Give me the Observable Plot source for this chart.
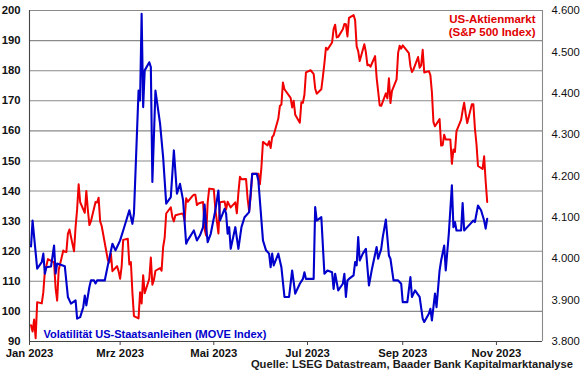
<!DOCTYPE html>
<html><head><meta charset="utf-8">
<script src="https://cdn.jsdelivr.net/npm/d3@7"></script>
<script src="https://cdn.jsdelivr.net/npm/@observablehq/plot@0.6"></script>
<style>
body{margin:0;background:#fff;}
#wrap{position:relative;width:580px;height:375px;font-family:"Liberation Sans",Arial,sans-serif;background:#fff;}
#src{position:absolute;right:7px;top:358px;font-size:11.2px;font-weight:bold;color:#1a1a1a;white-space:nowrap;}
</style></head><body>
<div id="wrap"><div id="chart"></div><div id="src">Quelle: LSEG Datastream, Baader Bank Kapitalmarktanalyse</div></div>
<script>
const spxDates = ["2023-01-02","2023-01-03","2023-01-04","2023-01-05","2023-01-06","2023-01-09","2023-01-10","2023-01-11","2023-01-12","2023-01-13","2023-01-17","2023-01-18","2023-01-19","2023-01-20","2023-01-23","2023-01-24","2023-01-25","2023-01-26","2023-01-27","2023-01-30","2023-01-31",
"2023-02-01","2023-02-02","2023-02-03","2023-02-06","2023-02-07","2023-02-08","2023-02-09","2023-02-10","2023-02-13","2023-02-14","2023-02-15","2023-02-16","2023-02-17","2023-02-21","2023-02-22","2023-02-23","2023-02-24","2023-02-27","2023-02-28",
"2023-03-01","2023-03-02","2023-03-03","2023-03-06","2023-03-07","2023-03-08","2023-03-09","2023-03-10","2023-03-13","2023-03-14","2023-03-15","2023-03-16","2023-03-17","2023-03-20","2023-03-21","2023-03-22","2023-03-23","2023-03-24","2023-03-27","2023-03-28","2023-03-29","2023-03-30","2023-03-31",
"2023-04-03","2023-04-04","2023-04-05","2023-04-06","2023-04-10","2023-04-11","2023-04-12","2023-04-13","2023-04-14","2023-04-17","2023-04-18","2023-04-19","2023-04-20","2023-04-21","2023-04-24","2023-04-25","2023-04-26","2023-04-27","2023-04-28",
"2023-05-01","2023-05-02","2023-05-03","2023-05-04","2023-05-05","2023-05-08","2023-05-09","2023-05-10","2023-05-11","2023-05-12","2023-05-15","2023-05-16","2023-05-17","2023-05-18","2023-05-19","2023-05-22","2023-05-23","2023-05-24","2023-05-25","2023-05-26","2023-05-30","2023-05-31",
"2023-06-01","2023-06-02","2023-06-05","2023-06-06","2023-06-07","2023-06-08","2023-06-09","2023-06-12","2023-06-13","2023-06-14","2023-06-15","2023-06-16","2023-06-20","2023-06-21","2023-06-22","2023-06-23","2023-06-26","2023-06-27","2023-06-28","2023-06-29","2023-06-30",
"2023-07-03","2023-07-05","2023-07-06","2023-07-07","2023-07-10","2023-07-11","2023-07-12","2023-07-13","2023-07-14","2023-07-17","2023-07-18","2023-07-19","2023-07-20","2023-07-21","2023-07-24","2023-07-25","2023-07-26","2023-07-27","2023-07-28","2023-07-31",
"2023-08-01","2023-08-02","2023-08-03","2023-08-04","2023-08-07","2023-08-08","2023-08-09","2023-08-10","2023-08-11","2023-08-14","2023-08-15","2023-08-16","2023-08-17","2023-08-18","2023-08-21","2023-08-22","2023-08-23","2023-08-24","2023-08-25","2023-08-28","2023-08-29","2023-08-30","2023-08-31",
"2023-09-01","2023-09-05","2023-09-06","2023-09-07","2023-09-08","2023-09-11","2023-09-12","2023-09-13","2023-09-14","2023-09-15","2023-09-18","2023-09-19","2023-09-20","2023-09-21","2023-09-22","2023-09-25","2023-09-26","2023-09-27","2023-09-28","2023-09-29",
"2023-10-02","2023-10-03","2023-10-04","2023-10-05","2023-10-06","2023-10-09","2023-10-10","2023-10-11","2023-10-12","2023-10-13","2023-10-16","2023-10-17","2023-10-18","2023-10-19","2023-10-20","2023-10-23","2023-10-24","2023-10-25","2023-10-26"];
const spxValues = [3839.5,3824.1,3853.0,3808.1,3895.1,3892.1,3919.3,3969.6,3983.2,3999.1,3991.0,3928.9,3898.9,3972.6,4019.8,4017.0,4016.2,4060.4,4070.6,4017.8,4076.6,
4119.2,4179.8,4136.5,4111.1,4164.0,4117.9,4081.5,4090.5,4137.3,4136.1,4147.6,4090.4,4079.1,3997.3,3991.1,4012.3,3970.0,3982.2,3970.2,
3951.4,3981.4,4045.6,4048.4,3986.4,3992.0,3918.3,3861.6,3855.8,3919.3,3891.9,3960.3,3916.6,3951.6,4002.9,3937.0,3948.7,3971.0,3977.5,3971.3,4027.8,4050.8,4109.3,
4124.5,4100.6,4090.4,4105.0,4109.1,4108.9,4092.0,4146.2,4137.6,4151.3,4154.9,4154.5,4129.8,4133.5,4137.0,4071.6,4056.0,4135.4,4169.5,
4167.9,4119.6,4090.8,4061.2,4136.3,4138.1,4119.2,4137.6,4130.6,4124.1,4136.3,4109.9,4158.8,4198.1,4192.0,4192.6,4145.6,4115.2,4151.3,4205.5,4205.5,4179.8,
4221.0,4282.4,4273.8,4283.9,4267.5,4293.9,4298.9,4338.9,4369.0,4372.6,4425.8,4409.6,4388.7,4365.7,4381.9,4348.3,4328.8,4378.4,4376.9,4396.4,4450.4,
4455.6,4446.8,4411.6,4399.0,4409.5,4439.3,4472.2,4510.0,4505.4,4522.8,4555.0,4565.7,4534.9,4536.3,4554.6,4567.5,4566.8,4537.4,4582.2,4589.0,
4576.7,4513.4,4501.9,4478.0,4518.4,4499.4,4467.7,4468.8,4464.1,4489.7,4437.9,4404.3,4370.4,4369.7,4399.8,4387.6,4436.0,4376.3,4405.7,4433.3,4497.6,4514.9,4507.7,
4515.8,4496.8,4465.5,4451.1,4457.5,4487.5,4461.9,4467.4,4505.1,4450.3,4453.5,4444.0,4402.2,4330.0,4320.1,4337.4,4273.5,4274.5,4299.7,4288.1,
4288.4,4229.5,4263.8,4258.2,4308.5,4335.7,4358.2,4377.0,4349.6,4327.8,4373.6,4373.2,4314.6,4278.0,4224.2,4217.0,4247.7,4186.8,4137.2];

const moveDates = ["2023-01-02","2023-01-03","2023-01-06","2023-01-09","2023-01-10","2023-01-11","2023-01-12","2023-01-15","2023-01-17","2023-01-18","2023-01-19","2023-01-24","2023-01-26","2023-01-28","2023-01-31",
"2023-02-01","2023-02-03","2023-02-05","2023-02-06","2023-02-07","2023-02-09","2023-02-10","2023-02-12","2023-02-13","2023-02-14","2023-02-19","2023-02-21","2023-02-24","2023-02-26","2023-02-28",
"2023-03-01","2023-03-03","2023-03-05","2023-03-07","2023-03-09","2023-03-10","2023-03-13","2023-03-14","2023-03-15","2023-03-16","2023-03-17","2023-03-20","2023-03-21","2023-03-22","2023-03-24","2023-03-27","2023-03-29","2023-03-31",
"2023-04-03","2023-04-05","2023-04-07","2023-04-09","2023-04-11","2023-04-13","2023-04-14","2023-04-18","2023-04-20","2023-04-22","2023-04-24","2023-04-25","2023-04-26","2023-04-27","2023-04-29",
"2023-05-02","2023-05-04","2023-05-05","2023-05-08","2023-05-09","2023-05-10","2023-05-11","2023-05-12","2023-05-15","2023-05-17","2023-05-19","2023-05-21","2023-05-24","2023-05-26","2023-05-29","2023-05-30",
"2023-06-02","2023-06-04","2023-06-06","2023-06-07","2023-06-08","2023-06-09","2023-06-12","2023-06-14","2023-06-16","2023-06-19","2023-06-21","2023-06-23","2023-06-26","2023-06-28","2023-06-29","2023-06-30",
"2023-07-05","2023-07-06","2023-07-07","2023-07-10","2023-07-12","2023-07-14","2023-07-17","2023-07-18","2023-07-19","2023-07-21","2023-07-24","2023-07-25","2023-07-26","2023-07-27","2023-07-28","2023-07-31",
"2023-08-01","2023-08-02","2023-08-03","2023-08-04","2023-08-06","2023-08-08","2023-08-10","2023-08-12","2023-08-15","2023-08-16","2023-08-18","2023-08-19","2023-08-21","2023-08-23","2023-08-24","2023-08-26","2023-08-29","2023-08-31",
"2023-09-01","2023-09-04","2023-09-06","2023-09-07","2023-09-09","2023-09-12","2023-09-14","2023-09-15","2023-09-18","2023-09-19","2023-09-20","2023-09-22","2023-09-23","2023-09-25","2023-09-26","2023-09-28","2023-09-29",
"2023-10-01","2023-10-03","2023-10-04","2023-10-05","2023-10-06","2023-10-09","2023-10-10","2023-10-11","2023-10-13","2023-10-15","2023-10-17","2023-10-18","2023-10-20","2023-10-22","2023-10-24","2023-10-25","2023-10-26"];
const moveValues = [121.6,130.2,114.2,116.4,119.2,112.5,114.7,114.9,121.9,112.6,115.9,115.0,104.8,102.6,103.7,
97.6,98.1,101.4,105.3,102.0,108.1,110.3,110.3,109.3,110.3,110.3,115.3,122.5,120.3,122.5,
123.6,126.9,130.2,133.6,129.1,132.5,173.4,170.1,198.9,167.9,180.1,182.8,181.2,143.0,173.4,162.4,151.3,135.8,
138.0,153.5,139.1,142.4,136.9,122.5,123.6,126.9,123.6,125.3,128.0,135.5,128.0,123.0,125.8,
133.6,140.2,130.2,134.1,132.5,125.8,128.0,120.8,128.0,120.8,128.0,131.3,133.0,145.7,145.7,143.5,
123.6,120.3,119.2,114.7,119.2,115.3,119.2,114.7,104.8,104.8,113.6,105.9,109.2,110.8,113.0,110.8,
110.8,134.7,130.2,131.3,112.5,113.6,113.0,107.5,112.5,107.0,109.2,112.5,104.8,110.3,110.8,112.0,
116.4,115.3,124.7,116.9,119.2,120.8,108.6,114.2,121.4,117.5,120.8,124.7,130.5,118.6,117.5,110.3,110.3,109.2,
103.1,103.1,111.4,104.8,107.0,104.8,97.6,96.5,99.2,100.9,97.0,105.9,101.4,113.6,116.9,121.9,113.6,
125.8,141.9,128.0,129.7,126.9,126.9,136.0,126.9,128.0,129.1,130.2,129.7,135.2,133.6,130.2,127.5,130.8];

const leftTicks = [90,100,110,120,130,140,150,160,170,180,190,200];
const rightTicks = [3800,3900,4000,4100,4200,4300,4400,4500,4600];
const xTickDates = ["2023-01-01","2023-03-01","2023-05-01","2023-07-01","2023-09-01","2023-11-01"];
const xTickLabels = ["Jan 2023","Mrz 2023","Mai 2023","Jul 2023","Sep 2023","Nov 2023"];
const xDomainDates = ["2023-01-01","2023-12-01"];
const leftDomain = [90,200];
const rightDomain = [3800,4600];
const spxLabel = "US-Aktienmarkt\n(S&P 500 Index)";
const moveLabel = "Volatilität US-Staatsanleihen (MOVE Index)";

const parse = d3.utcParse("%Y-%m-%d");
const toLeft = v => leftDomain[0] + (v - rightDomain[0]) / (rightDomain[1] - rightDomain[0]) * (leftDomain[1] - leftDomain[0]);
const fromLeft = v => rightDomain[0] + (v - leftDomain[0]) / (leftDomain[1] - leftDomain[0]) * (rightDomain[1] - rightDomain[0]);
const fmtDE = v => d3.format(",")(v).replace(/,/g, ".");
const spx = spxDates.map((d, i) => ({date: parse(d), value: toLeft(spxValues[i])}));
const move = moveDates.map((d, i) => ({date: parse(d), value: moveValues[i]}));
const xTicks = xTickDates.map(parse);
const xDomain = xDomainDates.map(parse);
const xLabel = d => xTickLabels[xTicks.findIndex(t => +t === +d)];

const font = '"Liberation Sans", Arial, sans-serif';
const chart = Plot.plot({
  width: 580, height: 362,
  marginTop: 10, marginBottom: 21, marginLeft: 29, marginRight: 38,
  style: {fontFamily: font, fontSize: "11px", color: "#111", background: "#fff"},
  x: {type: "utc", domain: xDomain, label: null},
  y: {domain: leftDomain, label: null},
  marks: [
    Plot.ruleY(leftTicks, {stroke: "#8a8a8a", strokeWidth: 1.1}),
    Plot.ruleX([xDomain[1]], {stroke: "#8a8a8a", strokeWidth: 1.1}),
    Plot.ruleX([xDomain[0]], {stroke: "#444", strokeWidth: 1.1}),
    Plot.ruleY([leftDomain[0]], {stroke: "#444", strokeWidth: 1.1}),
    Plot.axisY(leftTicks, {anchor: "left", label: null, tickSize: 0, tickPadding: 9, fontWeight: "bold", fontSize: 11.3, tickFormat: d => String(d)}),
    Plot.axisY(rightTicks.map(toLeft), {anchor: "right", label: null, tickSize: 0, tickPadding: 9, fontSize: 11.3, tickFormat: d => fmtDE(Math.round(fromLeft(d)))}),
    Plot.axisX(xTicks, {anchor: "bottom", label: null, tickSize: 4, tickPadding: 3, fontWeight: "bold", fontSize: 11.3, stroke: "#444", tickFormat: xLabel}),
    Plot.line(spx, {x: "date", y: "value", stroke: "#f00000", strokeWidth: 2}),
    Plot.line(move, {x: "date", y: "value", stroke: "#0000cc", strokeWidth: 2.1}),
    Plot.text([spxLabel], {frameAnchor: "top-right", dx: -7, dy: 3, lineAnchor: "top", textAnchor: "end", fill: "#e00000", fontWeight: "bold", fontSize: 11.5, lineHeight: 1.15}),
    Plot.text([moveLabel], {frameAnchor: "bottom-left", dx: 14, dy: -4, lineAnchor: "bottom", textAnchor: "start", fill: "#0000cc", fontWeight: "bold", fontSize: 11})
  ]
});
document.getElementById("chart").appendChild(chart);
</script>
</body></html>
